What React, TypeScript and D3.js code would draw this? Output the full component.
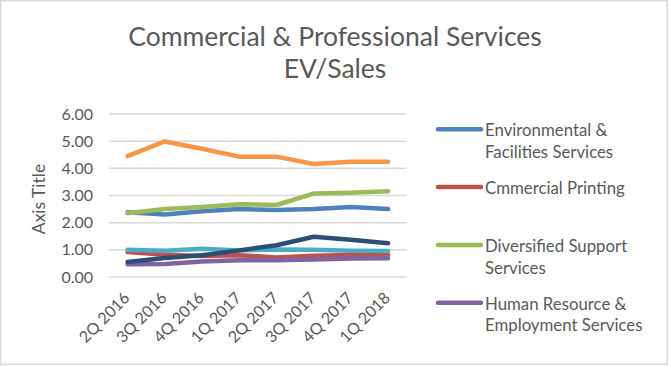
import React from "react";
import * as d3 from "d3";

const categories = ["2Q 2016", "3Q 2016", "4Q 2016", "1Q 2017", "2Q 2017", "3Q 2017", "4Q 2017", "1Q 2018"];
const yTicks = [0, 1, 2, 3, 4, 5, 6];

const envFacilities = [2.38, 2.3, 2.42, 2.5, 2.47, 2.5, 2.58, 2.5];
const commercialPrinting = [0.92, 0.82, 0.77, 0.8, 0.72, 0.78, 0.81, 0.82];
const diversifiedSupport = [2.35, 2.5, 2.58, 2.68, 2.65, 3.07, 3.1, 3.16];
const humanResource = [0.47, 0.48, 0.57, 0.62, 0.62, 0.64, 0.68, 0.69];
const series5 = [1.0, 0.97, 1.04, 0.98, 1.01, 1.0, 0.97, 0.96];
const series6 = [4.45, 4.99, 4.72, 4.43, 4.43, 4.16, 4.24, 4.24];
const series7 = [0.55, 0.7, 0.8, 0.98, 1.17, 1.48, 1.37, 1.24];

const seriesNames = [
  ["Environmental &", "Facilities Services"],
  ["Cmmercial Printing"],
  ["Diversified Support", "Services"],
  ["Human Resource &", "Employment Services"],
  ["Series 5"],
  ["Series 6"],
  ["Series 7"],
];
const seriesValues = [envFacilities, commercialPrinting, diversifiedSupport, humanResource, series5, series6, series7];
const colors = ["#4F81BD", "#C0504D", "#9BBB59", "#8064A2", "#4BACC6", "#F79646", "#2C4D75"];
const visibleLegendCount = 4;

const W = 669;
const H = 366;
const FONT = "Lato, 'Open Sans', sans-serif";
const TXT = "#595959";

export default function App() {
  const x = d3.scalePoint<string>().domain(categories).range([109, 406.7]).padding(0.5);
  const y = d3.scaleLinear().domain([0, 6]).range([277, 114]);
  const line = d3
    .line<number>()
    .x((_, i) => x(categories[i]) as number)
    .y((d) => y(d));

  return (
    <div style={{ position: "fixed", left: 0, top: 0 }}>
      <svg width={W} height={H} style={{ display: "block" }} fontFamily={FONT}>
        <rect x={0} y={0} width={W} height={H} fill="#fff" />
        <rect x={0.75} y={0.75} width={666.5} height={363.5} fill="none" stroke="#D9D9D9" strokeWidth={1.5} />
        <text x={335} y={46} textAnchor="middle" fontSize={26.5} fill={TXT}>
          Commercial &amp; Professional Services
        </text>
        <text x={335} y={78} textAnchor="middle" fontSize={26.5} fill={TXT}>
          EV/Sales
        </text>
        {yTicks.map((t) => (
          <g key={t}>
            <line x1={109} x2={406.7} y1={y(t)} y2={y(t)} stroke="#D9D9D9" strokeWidth={1.5} />
            <text x={93} y={y(t)} dy="0.35em" textAnchor="end" fontSize={16} fill={TXT}>
              {t.toFixed(2)}
            </text>
          </g>
        ))}
        <text transform={`translate(45,199) rotate(-90)`} textAnchor="middle" fontSize={17.5} fill={TXT}>
          Axis Title
        </text>
        {categories.map((c) => (
          <text
            key={c}
            transform={`translate(${(x(c) as number) + 3},299) rotate(-45)`}
            textAnchor="end"
            fontSize={16}
            fill={TXT}
          >
            {c}
          </text>
        ))}
        {seriesValues.map((vals, i) => (
          <path
            key={i}
            d={line(vals) || ""}
            fill="none"
            stroke={colors[i]}
            strokeWidth={4.5}
            strokeLinejoin="round"
            strokeLinecap="round"
          />
        ))}
        {seriesNames.slice(0, visibleLegendCount).map((names, i) => {
          const ly = 129.3 + i * 57.8;
          return (
            <g key={i}>
              <line x1={438} x2={481} y1={ly} y2={ly} stroke={colors[i]} strokeWidth={4.5} strokeLinecap="round" />
              {names.map((n, j) => (
                <text key={j} x={485} y={ly + 7 + j * 21.7} fontSize={16.8} fill={TXT}>
                  {n}
                </text>
              ))}
            </g>
          );
        })}
      </svg>
    </div>
  );
}
